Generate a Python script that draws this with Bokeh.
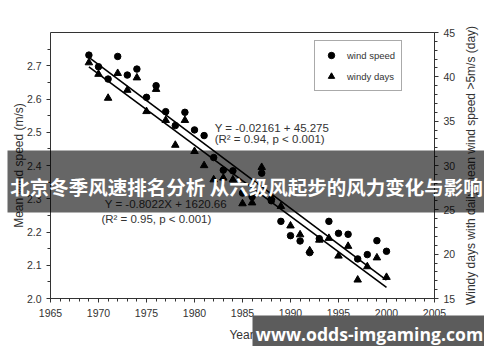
import math
from bokeh.plotting import figure
from bokeh.models import (Range1d, LinearAxis, SingleIntervalTicker, FixedTicker,
                          Label, BoxAnnotation, Legend, PrintfTickFormatter)
from bokeh.embed import file_html
from bokeh.resources import INLINE

years = list(range(1969, 2001))
wind_speed = [2.732, 2.697, 2.660, 2.728, 2.672, 2.690, 2.605, 2.640, 2.562, 2.520,
              2.560, 2.507, 2.490, 2.424, 2.386, 2.384, 2.317, 2.306, 2.377, 2.294,
              2.232, 2.189, 2.173, 2.138, 2.180, 2.232, 2.196, 2.193, 2.119, 2.132,
              2.174, 2.142]
windy_days = [41.6, 40.3, 37.6, 40.4, 38.5, 39.9, 36.1, 38.6, 35.1, 32.3,
              35.1, 31.6, 30.0, 28.4, 28.6, 28.4, 25.7, 25.8, 29.8, 26.4,
              25.4, 23.2, 22.2, 20.4, 21.6, 21.8, 19.8, 20.9, 17.1, 18.6,
              19.6, 17.4]
speed_fit = (-0.02161, 45.275)
days_fit = (-0.8022, 1620.66)
fit_years = [1969, 2000]
x_lim = (1965, 2005)
speed_lim = (2.0, 2.8)
days_lim = (15, 45)

eq_speed = ["Y = -0.02161 + 45.275", "(R\u00b2 = 0.94, p < 0.001)"]
eq_days = ["Y = -0.8022X + 1620.66", "(R\u00b2 = 0.95, p < 0.001)"]
x_label = "Year"
left_label = "Mean wind speed (m/s)"
right_label = "Windy days with daily mean wind speed >5m/s (day)"
banner_text = "北京冬季风速排名分析 从六级风起步的风力变化与影响"
watermark_text = "www.odds-imgaming.com"

FONT = "Liberation Sans"
TXT = "#333333"
AX = "#333333"

# canvas layout (pixels): plot box inside a full-canvas frame
W, H = 484, 346
BOX_L, BOX_R, BOX_T, BOX_B = 50, 434, 32, 298

def span(lim, lo_px, hi_px, total):
    a, b = lim
    k = (hi_px - lo_px) / (b - a)
    return Range1d(a - lo_px / k, b + (total - hi_px) / k)

xr = span(x_lim, BOX_L, BOX_R, W)
yr = span(speed_lim, H - BOX_B, H - BOX_T, H)
dr = span(days_lim, H - BOX_B, H - BOX_T, H)

p = figure(width=W, height=H, output_backend="svg", toolbar_location=None,
           x_range=xr, y_range=yr, min_border=0,
           min_border_left=0, min_border_right=0, min_border_top=0,
           min_border_bottom=0)
p.extra_y_ranges = {"days": dr}
p.grid.visible = False
p.outline_line_color = None
p.background_fill_color = "white"
p.border_fill_color = "white"

def style_axis(ax):
    ax.axis_line_color = AX
    ax.axis_line_width = 1
    ax.major_tick_line_color = AX
    ax.minor_tick_line_color = AX
    ax.major_tick_in = 0
    ax.major_tick_out = 4
    ax.minor_tick_in = 0
    ax.minor_tick_out = 3
    ax.major_label_text_font = FONT
    ax.major_label_text_font_size = "10.5px"
    ax.major_label_text_color = TXT

bx = p.xaxis[0]
bx.ticker = SingleIntervalTicker(interval=5, num_minor_ticks=5)
bx.fixed_location = speed_lim[0]
bx.bounds = x_lim
style_axis(bx)
bx.major_label_standoff = 6

ly = p.yaxis[0]
ly.ticker = SingleIntervalTicker(interval=0.1, num_minor_ticks=2)
ly.formatter = PrintfTickFormatter(format="%.1f")
ly.fixed_location = x_lim[0]
ly.bounds = speed_lim
style_axis(ly)
ly.major_label_standoff = 5

ry = LinearAxis(y_range_name="days", fixed_location=x_lim[1], bounds=days_lim,
                ticker=SingleIntervalTicker(interval=5, num_minor_ticks=5))
style_axis(ry)
ry.major_label_standoff = 5
p.add_layout(ry, "right")

tx = LinearAxis(fixed_location=speed_lim[1], bounds=x_lim,
                ticker=FixedTicker(ticks=[]))
style_axis(tx)
tx.major_tick_out = 0
tx.minor_tick_out = 0
p.add_layout(tx, "above")

# axis titles
p.add_layout(Label(x=241, y=334, x_units="canvas", y_units="canvas",
                   text=x_label, text_font=FONT, text_font_size="12px",
                   text_color=TXT, text_align="center", text_baseline="middle"))
p.add_layout(Label(x=18, y=165, x_units="canvas", y_units="canvas",
                   text=left_label, angle=math.pi / 2, text_font=FONT,
                   text_font_size="12px", text_color=TXT, text_align="center",
                   text_baseline="middle"))
p.add_layout(Label(x=470, y=165, x_units="canvas", y_units="canvas",
                   text=right_label, angle=math.pi / 2, text_font=FONT,
                   text_font_size="12px", text_color=TXT, text_align="center",
                   text_baseline="middle"))

# regression lines
p.line(fit_years, [speed_fit[0] * x + speed_fit[1] for x in fit_years],
       line_color="black", line_width=1.6)
p.line(fit_years, [days_fit[0] * x + days_fit[1] for x in fit_years],
       line_color="black", line_width=1.6, y_range_name="days")

r1 = p.scatter(years, wind_speed, marker="circle", size=6.5, color="black")
r2 = p.scatter(years, windy_days, marker="triangle", size=7.5, color="black",
               y_range_name="days")

legend = Legend(items=[("wind speed", [r1]), ("windy days", [r2])],
                location=(314, 255), padding=6, spacing=5, label_height=16,
                glyph_height=16, glyph_width=20, label_standoff=6, margin=0,
                border_line_color="#555555", border_line_width=1,
                label_text_font=FONT, label_text_font_size="9.5px",
                label_text_color=TXT, background_fill_alpha=1)
p.add_layout(legend, "center")

for txt, x, y in [(eq_speed[0], 1982.1, 2.514), (eq_speed[1], 1982.1, 2.479),
                  (eq_days[0], 1970.65, 2.284), (eq_days[1], 1970.3, 2.239)]:
    p.add_layout(Label(x=x, y=y, text=txt, text_font=FONT, text_font_size="11.5px",
                       text_color=TXT, text_baseline="middle", text_align="left"))

# banner overlay
p.add_layout(BoxAnnotation(left=7, right=W, top=150, bottom=212,
                           left_units="canvas", right_units="canvas",
                           top_units="canvas", bottom_units="canvas",
                           fill_color="black", fill_alpha=0.6, line_alpha=0,
                           level="overlay"))
p.add_layout(Label(x=246, y=186, x_units="canvas", y_units="canvas",
                   text=banner_text, text_font="Noto Sans CJK SC",
                   text_font_size="19.5px", text_font_style="bold",
                   text_color="white", text_align="center",
                   text_baseline="middle", level="overlay"))

# watermark
p.add_layout(BoxAnnotation(left=252, right=W, top=315, bottom=H,
                           left_units="canvas", right_units="canvas",
                           top_units="canvas", bottom_units="canvas",
                           fill_color="#5c5c5c", fill_alpha=1, line_alpha=0,
                           level="overlay"))
p.add_layout(Label(x=369, y=333, x_units="canvas", y_units="canvas",
                   text=watermark_text, text_font="Open Sans",
                   text_font_size="17.6px", text_font_style="bold",
                   text_color="white", text_align="center",
                   text_baseline="middle", level="overlay"))

open("out.html", "w").write(file_html(p, INLINE))
